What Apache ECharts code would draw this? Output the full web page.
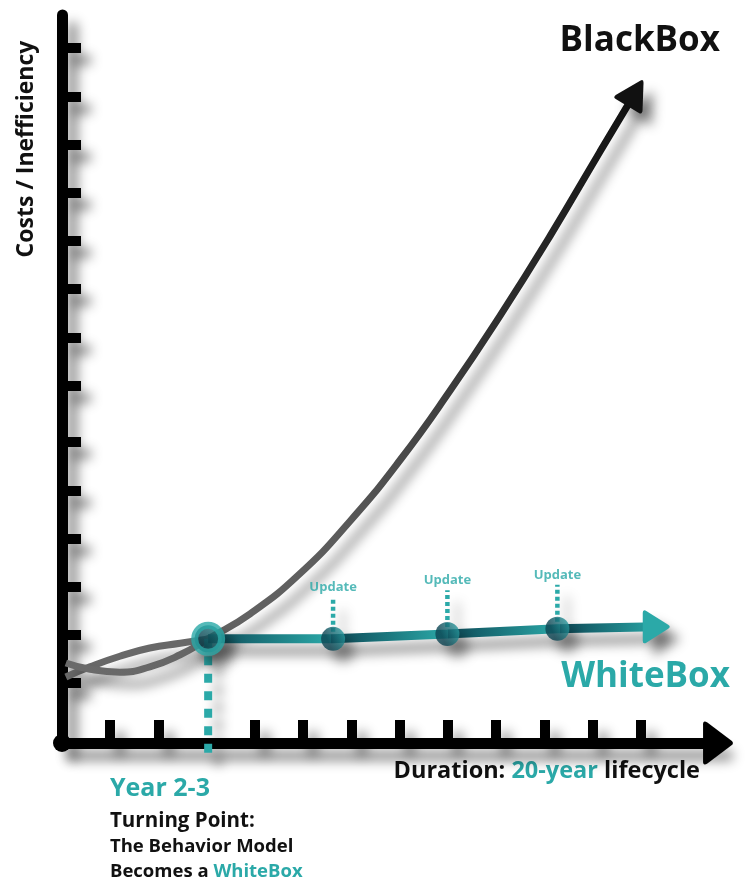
<!DOCTYPE html>
<html>
<head>
<meta charset="utf-8">
<title>BlackBox vs WhiteBox</title>
<script src="https://cdn.jsdelivr.net/npm/echarts@6/dist/echarts.min.js"></script>
<style>
  html, body { margin: 0; padding: 0; background: #fff; }
  #main { width: 750px; height: 882px; }
</style>
</head>
<body>
<div id="main"></div>
<script>
'use strict';

// axis ticks (axis units); tick 3 sits under the turning point drop line
const xTicks = [1, 2, 4, 5, 6, 7, 8, 9, 10, 11, 12];
const yTicks = [1.24, 2.24, 3.24, 4.23, 5.23, 6.24, 7.41, 8.40, 9.42, 10.41, 11.41, 12.41, 13.40, 14.42];

// BlackBox cost curve, last point is where the arrow head sits
const blackBox = [
    [0.08, 1.66], [0.58, 1.53], [1.20, 1.47], [1.82, 1.58], [2.45, 1.83],
    [3.03, 2.16], [3.90, 2.68], [4.93, 3.51], [5.97, 4.60], [7.01, 5.87],
    [8.04, 7.30], [9.08, 8.86], [10.12, 10.52], [11.15, 12.26], [11.88, 13.48]
];
// grey lead-in until the turning point
const whiteBoxLeadIn = [
    [0.08, 1.37], [0.58, 1.58], [1.20, 1.80], [1.82, 1.97], [2.45, 2.07], [3.03, 2.16]
];
// WhiteBox after the turning point
const whiteBox = [[3.03, 2.16], [5.62, 2.16], [7.99, 2.26], [10.27, 2.37], [12.32, 2.41]];
const updates = [[5.62, 2.16], [7.99, 2.26], [10.27, 2.37]];
const updateTops = [3.03, 3.17, 3.28];
const turningPoint = [3.03, 2.16];
const turningBottom = -0.29;

const teal = '#2ba9a8';
const darkTeal = '#0d4856';
const font = "'Open Sans', 'Noto Sans', sans-serif";
const shadow = {
    shadowColor: 'rgba(0, 0, 0, 0.42)',
    shadowBlur: 12,
    shadowOffsetX: 10,
    shadowOffsetY: 12
};
const arrowPath = 'path://M44,5 Q50,-3 56,5 L97,60 Q104,70 92,70 L8,70 Q-4,70 3,60 Z';

var myChart = echarts.init(document.getElementById('main'));

// teal line: every segment goes dark -> teal
const x0 = whiteBox[0][0];
const xN = whiteBox[whiteBox.length - 1][0];
const tealStops = [];
for (let i = 0; i < whiteBox.length - 1; i++) {
    tealStops.push({ offset: (whiteBox[i][0] - x0) / (xN - x0), color: darkTeal });
    tealStops.push({ offset: (whiteBox[i + 1][0] - x0) / (xN - x0), color: teal });
}

const dotFill = new echarts.graphic.LinearGradient(0, 0.6, 1, 0.2, [
    { offset: 0.25, color: '#0c4452' },
    { offset: 1, color: '#2a9fa3' }
]);

function withArrow(points, size, rotate, color) {
    return points.map(function (p, i) {
        if (i < points.length - 1) return p;
        return {
            value: p,
            symbol: arrowPath,
            symbolSize: size,
            symbolRotate: rotate,
            itemStyle: Object.assign({ color: color }, shadow)
        };
    });
}

const series = [
    {
        name: 'WhiteBox lead-in',
        type: 'line',
        smooth: true,
        symbol: 'none',
        z: 2,
        data: whiteBoxLeadIn,
        lineStyle: Object.assign({ color: '#686868', width: 7 }, shadow)
    },
    {
        name: 'BlackBox',
        type: 'line',
        smooth: true,
        symbol: 'none',
        showSymbol: true,
        z: 3,
        data: withArrow(blackBox, [32, 30], -31, '#111'),
        lineStyle: Object.assign({
            width: 7,
            color: new echarts.graphic.LinearGradient(0, 1, 1, 0, [
                { offset: 0, color: '#6b6b6b' },
                { offset: 0.35, color: '#5c5c5c' },
                { offset: 0.65, color: '#323232' },
                { offset: 1, color: '#111111' }
            ])
        }, shadow)
    },
    {
        name: 'Turning drop',
        type: 'line',
        symbol: 'none',
        clip: false,
        z: 4,
        data: [turningPoint, [turningPoint[0], turningBottom]],
        lineStyle: Object.assign({ color: teal, width: 8, type: [9, 8.5], cap: 'butt' }, shadow)
    },
    {
        name: 'WhiteBox',
        type: 'line',
        symbol: 'none',
        showSymbol: true,
        z: 5,
        data: withArrow(whiteBox, [33, 27], -90, teal),
        lineStyle: Object.assign({
            width: 9,
            color: new echarts.graphic.LinearGradient(0, 0, 1, 0, tealStops)
        }, shadow)
    }
];

updates.forEach(function (p, i) {
    series.push({
        name: 'Update dash ' + (i + 1),
        type: 'line',
        symbol: 'none',
        z: 4,
        data: [p, [p[0], updateTops[i]]],
        lineStyle: Object.assign({ color: teal, width: 4.5, type: [4, 3], cap: 'butt' }, shadow)
    });
});

series.push(
    {
        name: 'Updates',
        type: 'scatter',
        z: 6,
        symbolSize: 24,
        data: updates,
        itemStyle: Object.assign({ color: dotFill }, shadow)
    },
    {
        name: 'Update labels',
        type: 'scatter',
        z: 6,
        symbolSize: 1,
        data: updates.map(function (p, i) { return [p[0], updateTops[i]]; }),
        itemStyle: { color: 'rgba(0,0,0,0)' },
        label: {
            show: true,
            position: 'top',
            distance: 3,
            formatter: 'Update',
            color: teal,
            fontFamily: font,
            fontWeight: 'bold',
            fontSize: 13
        }
    },
    {
        name: 'Turning point',
        type: 'scatter',
        z: 7,
        symbolSize: 27,
        data: [turningPoint],
        itemStyle: Object.assign({ color: dotFill, borderColor: teal, borderWidth: 7 }, shadow)
    }
);

var option = {
    animation: false,
    backgroundColor: '#ffffff',
    grid: { left: 62, right: 32, top: 15, bottom: 139, outerBoundsMode: 'none' },
    xAxis: {
        type: 'value',
        min: 0,
        max: 13.6,
        splitLine: { show: false },
        axisLabel: { show: false },
        axisLine: {
            symbol: ['none', arrowPath],
            symbolSize: [43, 30],
            lineStyle: Object.assign({ color: '#000', width: 11 }, shadow)
        },
        axisTick: {
            inside: true,
            length: 23,
            customValues: xTicks,
            lineStyle: Object.assign({ color: '#000', width: 10 }, shadow)
        }
    },
    yAxis: {
        type: 'value',
        min: 0,
        max: 15.1,
        splitLine: { show: false },
        axisLabel: { show: false },
        axisLine: {
            symbol: ['circle', 'none'],
            symbolSize: [18, 18],
            lineStyle: Object.assign({ color: '#000', width: 11 }, shadow)
        },
        axisTick: {
            inside: true,
            length: 19,
            customValues: yTicks,
            lineStyle: Object.assign({ color: '#000', width: 10 }, shadow)
        }
    },
    graphic: [
        {
            type: 'text', x: 720, y: 41,
            style: { text: 'BlackBox', font: 'bold 35px ' + font, fill: '#111', align: 'right', verticalAlign: 'middle' }
        },
        {
            type: 'text', x: 730, y: 677,
            style: { text: 'WhiteBox', font: 'bold 35px ' + font, fill: teal, align: 'right', verticalAlign: 'middle' }
        },
        {
            type: 'text', x: 26, y: 149, rotation: Math.PI / 2,
            style: { text: 'Costs / Inefficiency', font: 'bold 23px ' + font, fill: '#111', align: 'center', verticalAlign: 'middle' }
        },
        {
            type: 'text', x: 700, y: 771,
            style: {
                text: 'Duration: {t|20-year} lifecycle',
                font: 'bold 23.5px ' + font, fill: '#111', align: 'right', verticalAlign: 'middle',
                rich: { t: { font: 'bold 23.5px ' + font, fill: teal } }
            }
        },
        {
            type: 'text', x: 110, y: 789,
            style: { text: 'Year 2-3', font: 'bold 25px ' + font, fill: teal, align: 'left', verticalAlign: 'middle' }
        },
        {
            type: 'text', x: 110, y: 821,
            style: { text: 'Turning Point:', font: 'bold 20.5px ' + font, fill: '#111', align: 'left', verticalAlign: 'middle' }
        },
        {
            type: 'text', x: 110, y: 847,
            style: { text: 'The Behavior Model', font: 'bold 18.5px ' + font, fill: '#111', align: 'left', verticalAlign: 'middle' }
        },
        {
            type: 'text', x: 110, y: 872,
            style: {
                text: 'Becomes a {t|WhiteBox}',
                font: 'bold 18.5px ' + font, fill: '#111', align: 'left', verticalAlign: 'middle',
                rich: { t: { font: 'bold 18.5px ' + font, fill: teal } }
            }
        }
    ],
    series: series
};

myChart.setOption(option);
</script>
</body>
</html>
